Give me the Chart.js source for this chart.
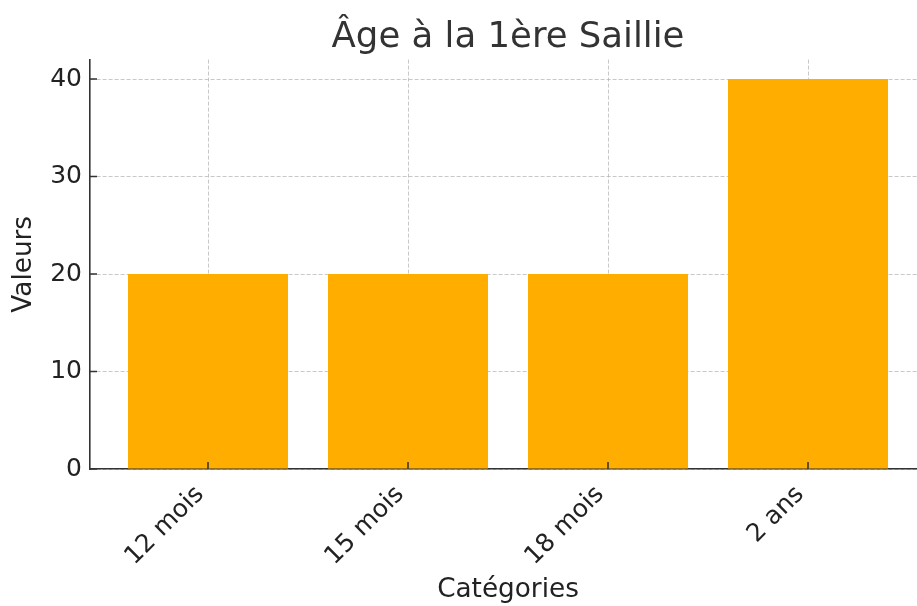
<!DOCTYPE html>
<html>
<head>
<meta charset="utf-8">
<script src="https://cdn.jsdelivr.net/npm/chart.js@4"></script>
<style>
  html, body { margin: 0; padding: 0; background: #fff; overflow: hidden; }
  #wrap { width: 917px; height: 606px; overflow: hidden; }
</style>
</head>
<body>
<div id="wrap"><canvas id="ageChart" width="935" height="606"></canvas></div>
<script>
// données du graphique
var categories = ['12 mois', '15 mois', '18 mois', '2 ans'];
var valeurs = [20, 20, 20, 40];
var yTicks = [0, 10, 20, 30, 40];

var barColor = '#FFAE00';
var axisColor = '#333333';
var gridColor = 'rgba(176,176,176,0.7)';
var fontFam = "'DejaVu Sans', sans-serif";

// petites graduations tournées vers l'intérieur (comme matplotlib)
var innerTicks = {
  id: 'innerTicks',
  afterDraw: function(chart) {
    var ctx = chart.ctx, x = chart.scales.x, y = chart.scales.y, a = chart.chartArea;
    ctx.save();
    ctx.strokeStyle = axisColor;
    ctx.lineWidth = 1.5;
    ctx.beginPath();
    categories.forEach(function(c, i) {
      var px = x.getPixelForValue(i);
      ctx.moveTo(px, a.bottom);
      ctx.lineTo(px, a.bottom - 7);
    });
    yTicks.forEach(function(v) {
      var py = y.getPixelForValue(v);
      ctx.moveTo(a.left, py);
      ctx.lineTo(a.left + 7, py);
    });
    ctx.stroke();
    ctx.restore();
  }
};

var myChart = new Chart(document.getElementById('ageChart'), {
  type: 'bar',
  data: {
    datasets: [{
      label: 'Valeurs',
      data: valeurs.map(function(v, i) { return {x: i, y: v}; }),
      backgroundColor: barColor,
      borderWidth: 0,
      barPercentage: 0.8,
      categoryPercentage: 1.0
    }]
  },
  options: {
    responsive: false,
    animation: false,
    layout: { padding: { left: 0, right: 9, top: 0, bottom: 0 } },
    plugins: {
      legend: { display: false },
      tooltip: { enabled: false },
      title: {
        display: true,
        text: 'Âge à la 1ère Saillie',
        fullSize: false,
        color: '#333333',
        font: { family: fontFam, size: 35.5, weight: 'normal' },
        padding: { top: 16, bottom: 1 }
      }
    },
    scales: {
      x: {
        type: 'linear',
        min: -0.59,
        max: 3.59,
        offset: false,
        z: 1,
        afterBuildTicks: function(scale) {
          scale.ticks = categories.map(function(c, i) { return {value: i}; });
        },
        afterFit: function(scale) { scale.height = 137; },
        grid: { offset: false, color: gridColor, lineWidth: 1, drawTicks: false },
        border: { display: true, color: axisColor, width: 1.6, dash: [4, 2] },
        ticks: {
          autoSkip: false,
          maxRotation: 45,
          minRotation: 45,
          padding: 11,
          labelOffset: -8,
          color: '#222222',
          font: { family: fontFam, size: 25 },
          callback: function(v) { return categories[v]; }
        },
        title: {
          display: true,
          text: 'Catégories',
          color: '#222222',
          font: { family: fontFam, size: 26.3 },
          padding: { top: 4, bottom: 0 }
        }
      },
      y: {
        min: 0,
        max: 42,
        z: 1,
        afterBuildTicks: function(scale) {
          scale.ticks = yTicks.map(function(v) { return {value: v}; });
        },
        afterFit: function(scale) { scale.width = 90; },
        grid: { color: gridColor, lineWidth: 1, drawTicks: false },
        border: { display: true, color: axisColor, width: 1.6, dash: [4, 2] },
        ticks: {
          padding: 8,
          color: '#222222',
          font: { family: fontFam, size: 25 }
        },
        title: {
          display: true,
          text: 'Valeurs',
          color: '#222222',
          font: { family: fontFam, size: 26.3 },
          padding: { top: 8, bottom: 4 }
        }
      }
    }
  },
  plugins: [innerTicks]
});
</script>
</body>
</html>
